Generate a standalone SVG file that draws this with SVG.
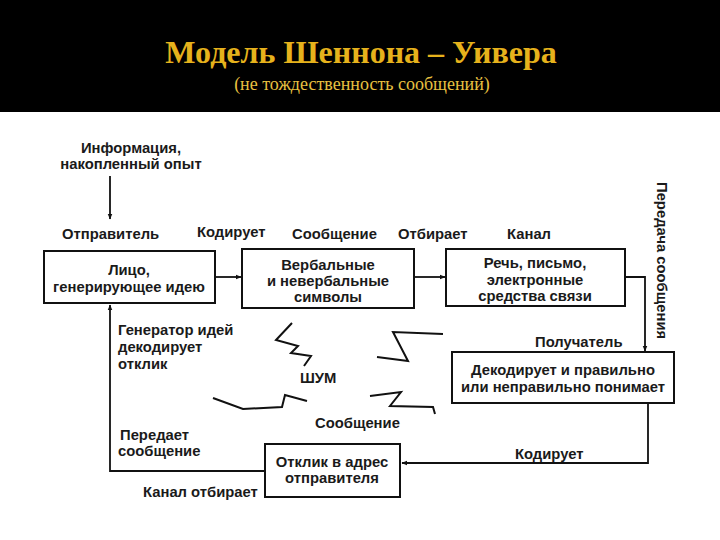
<svg xmlns="http://www.w3.org/2000/svg" width="720" height="540" viewBox="0 0 720 540">
<defs>
<style>
.t{font-family:"Liberation Sans",Arial,sans-serif;font-weight:bold;font-size:14.8px;fill:#1a1a1a}
.m{text-anchor:middle}
.box{fill:#fff;stroke:#111;stroke-width:2}
.ln{fill:none;stroke:#111;stroke-width:1.8}
.z{fill:none;stroke:#111;stroke-width:2;stroke-linejoin:miter}
</style>
<marker id="ah" viewBox="0 0 10 10" refX="9" refY="5" markerWidth="6" markerHeight="6" orient="auto" markerUnits="userSpaceOnUse">
<path d="M0,1 L10,5 L0,9 z" fill="#111"/>
</marker>
</defs>
<rect x="0" y="0" width="720" height="540" fill="#fff"/>
<rect x="0" y="0" width="720" height="112" fill="#000"/>
<g id="title">
<text x="361" y="63" text-anchor="middle" style="font-family:'Liberation Serif','Times New Roman',serif;font-weight:bold;font-size:32px;fill:#e6b21c">Модель Шеннона – Уивера</text>
<text x="362" y="90" text-anchor="middle" style="font-family:'Liberation Serif','Times New Roman',serif;font-size:18px;fill:#e8c040">(не тождественность сообщений)</text>
</g>
<g id="connectors">
<line class="ln" x1="110" y1="176" x2="110" y2="219" marker-end="url(#ah)"/>
<line class="ln" x1="215" y1="277" x2="241" y2="277" marker-end="url(#ah)"/>
<line class="ln" x1="414" y1="277" x2="445" y2="277" marker-end="url(#ah)"/>
<polyline class="ln" points="625,277 645,277 645,351" marker-end="url(#ah)"/>
<polyline class="ln" points="648,403 648,463 402,463" marker-end="url(#ah)"/>
<polyline class="ln" points="265,471 110,471 110,305" marker-end="url(#ah)"/>
</g>
<g id="info">
<text class="t m" x="131" y="153">Информация,</text>
<text class="t m" x="131" y="169">накопленный опыт</text>
</g>
<g id="labels-top">
<text class="t" x="62" y="239">Отправитель</text>
<text class="t" x="197" y="237">Кодирует</text>
<text class="t" x="292" y="239">Сообщение</text>
<text class="t" x="398" y="239">Отбирает</text>
<text class="t" x="507" y="239">Канал</text>
</g>
<g id="sender">
<rect class="box" x="44" y="251" width="171" height="52"/>
<text class="t m" x="129" y="275">Лицо,</text>
<text class="t m" x="129" y="292">генерирующее идею</text>
</g>
<g id="message">
<rect class="box" x="242" y="249" width="172" height="59"/>
<text class="t m" x="328" y="270">Вербальные</text>
<text class="t m" x="328" y="286">и невербальные</text>
<text class="t m" x="328" y="302">символы</text>
</g>
<g id="channel">
<rect class="box" x="446" y="249" width="179" height="57"/>
<text class="t m" x="535" y="268">Речь, письмо,</text>
<text class="t m" x="535" y="285">электронные</text>
<text class="t m" x="535" y="301">средства связи</text>
</g>
<g id="transfer">
<text class="t" transform="translate(657,182) rotate(90)">Передача сообщения</text>
</g>
<g id="receiver">
<text class="t" x="535" y="347">Получатель</text>
<rect class="box" x="452" y="352" width="222" height="51"/>
<text class="t m" x="563" y="375">Декодирует и правильно</text>
<text class="t m" x="563" y="392">или неправильно понимает</text>
</g>
<g id="response">
<text class="t" x="515" y="459">Кодирует</text>
<rect class="box" x="265" y="444" width="135" height="53"/>
<text class="t m" x="332" y="467">Отклик в адрес</text>
<text class="t m" x="332" y="483">отправителя</text>
</g>
<g id="feedback-labels">
<text class="t" x="118" y="335">Генератор идей</text>
<text class="t" x="118" y="352">декодирует</text>
<text class="t" x="118" y="369">отклик</text>
<text class="t" x="120" y="440">Передает</text>
<text class="t" x="118" y="456">сообщение</text>
<text class="t" x="143" y="497">Канал отбирает</text>
</g>
<g id="noise">
<polyline class="z" points="292,323 276,340 298,346 291,353 311,356 304,366"/>
<polyline class="z" points="443,334 393,332 408,361 377,357"/>
<polyline class="z" points="213,398 243,409 282,407 285,395 307,401"/>
<polyline class="z" points="370,396 401,392 390,406 433,407 435,414"/>
<text class="t" x="300" y="383">ШУМ</text>
<text class="t" x="315" y="428">Сообщение</text>
</g>
</svg>
